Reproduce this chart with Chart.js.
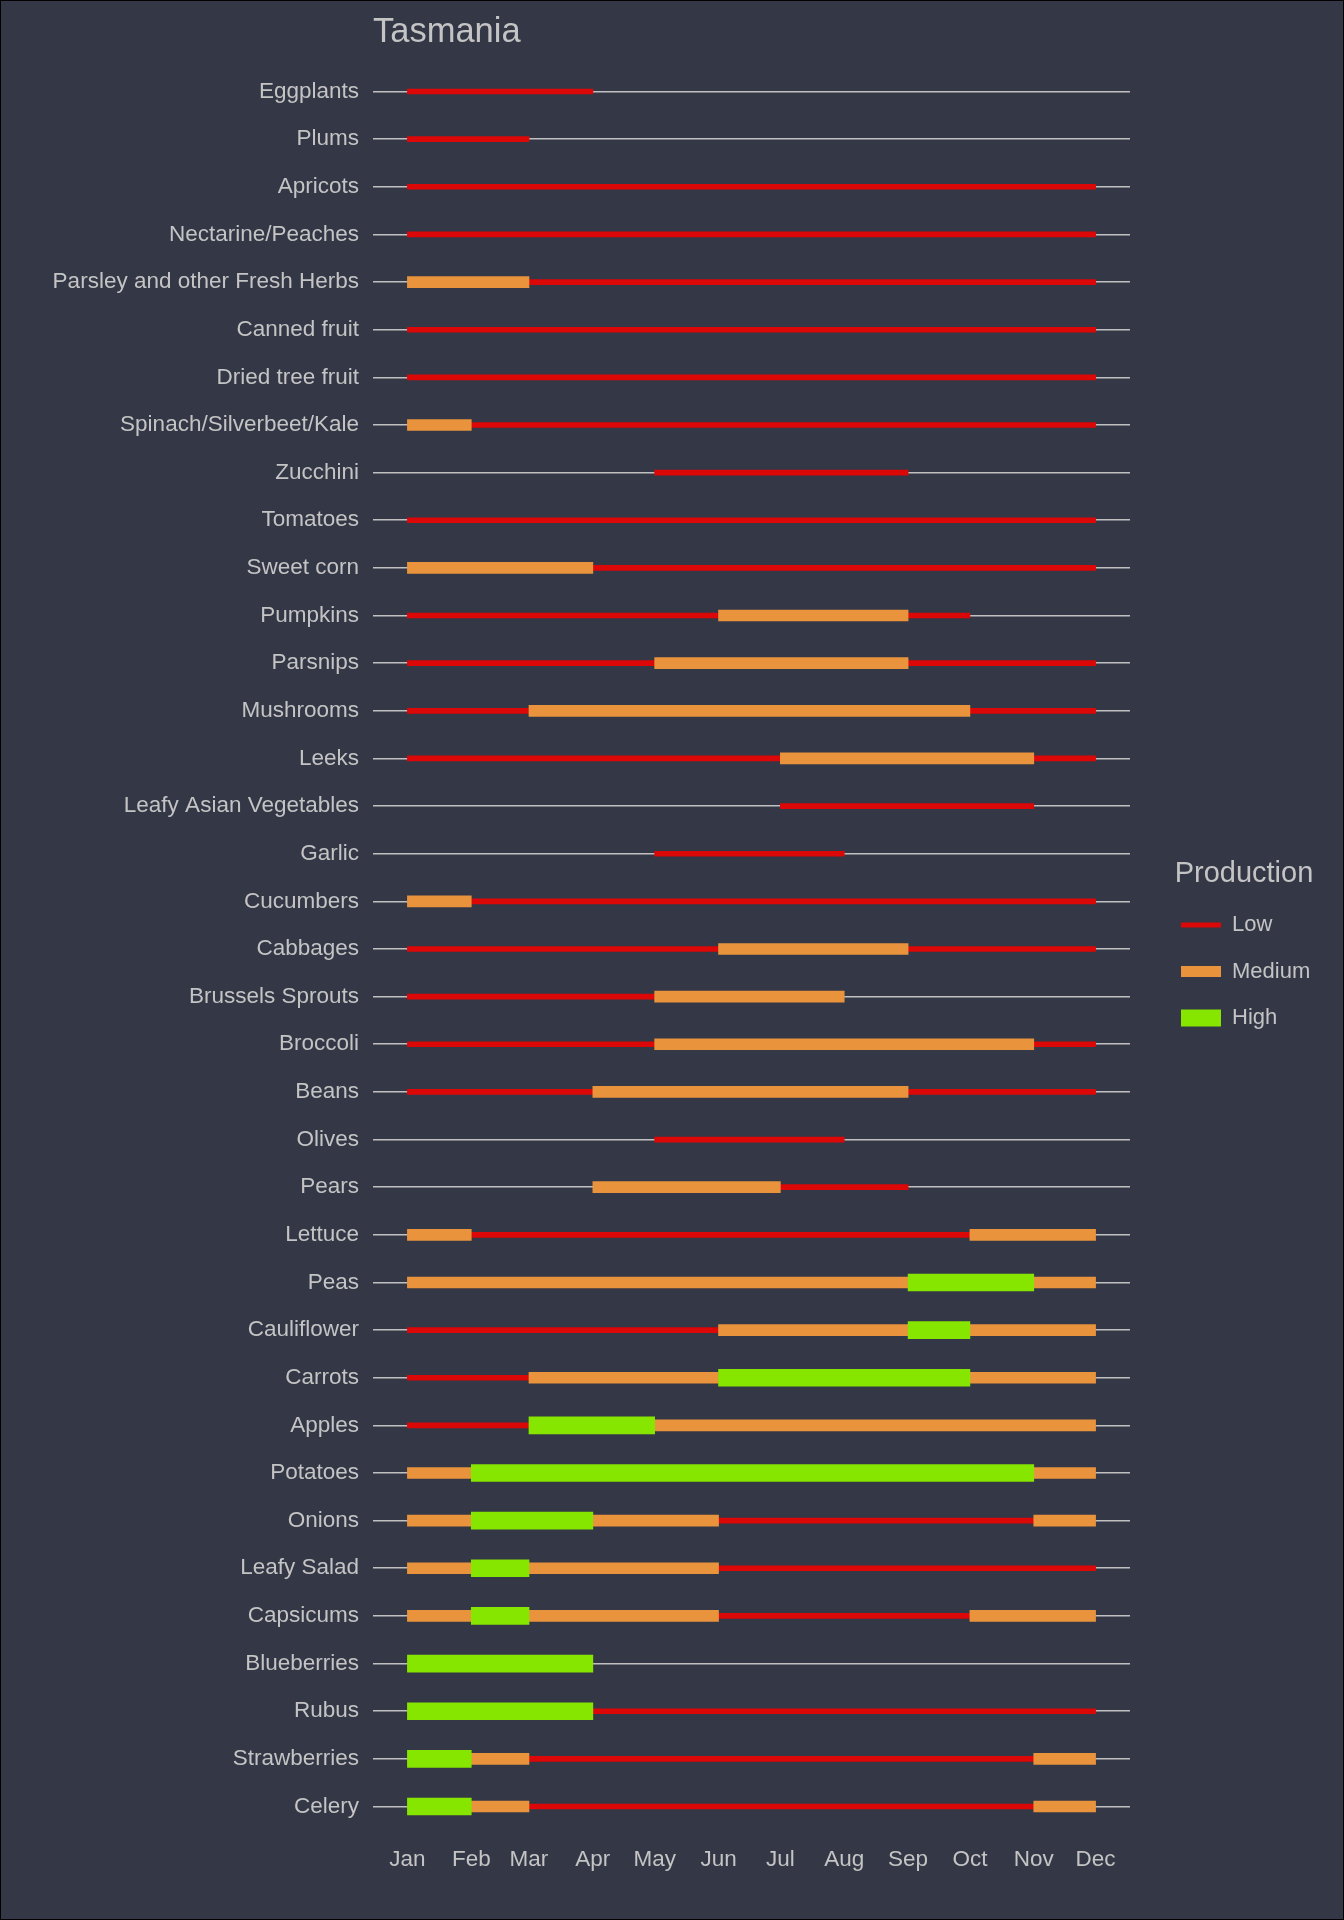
<!DOCTYPE html>
<html>
<head>
<meta charset="utf-8">
<title>Tasmania</title>
<script src="https://cdn.jsdelivr.net/npm/chart.js@4.4.1/dist/chart.umd.min.js"></script>
<style>
  html, body { margin: 0; padding: 0; background: #343746; }
  canvas { display: block; }
</style>
</head>
<body>
<canvas id="season_chart" width="1344" height="1920" style="width:1344px;height:1920px"></canvas>
<script>
var crops = [
  'Eggplants', 'Plums', 'Apricots', 'Nectarine/Peaches', 'Parsley and other Fresh Herbs',
  'Canned fruit', 'Dried tree fruit', 'Spinach/Silverbeet/Kale', 'Zucchini', 'Tomatoes',
  'Sweet corn', 'Pumpkins', 'Parsnips', 'Mushrooms', 'Leeks', 'Leafy Asian Vegetables',
  'Garlic', 'Cucumbers', 'Cabbages', 'Brussels Sprouts', 'Broccoli', 'Beans', 'Olives',
  'Pears', 'Lettuce', 'Peas', 'Cauliflower', 'Carrots', 'Apples', 'Potatoes', 'Onions',
  'Leafy Salad', 'Capsicums', 'Blueberries', 'Rubus', 'Strawberries', 'Celery'
];

var months = ['Jan', 'Feb', 'Mar', 'Apr', 'May', 'Jun', 'Jul', 'Aug', 'Sep', 'Oct', 'Nov', 'Dec'];
// day of year for the first of each month
var monthDays = [0, 31, 59, 90, 120, 151, 181, 212, 243, 273, 304, 334];

// [crop, from, to]
var lowSeasons = [
  ['Eggplants', 'Jan', 'Apr'], ['Plums', 'Jan', 'Mar'], ['Apricots', 'Jan', 'Dec'],
  ['Nectarine/Peaches', 'Jan', 'Dec'], ['Parsley and other Fresh Herbs', 'Mar', 'Dec'],
  ['Canned fruit', 'Jan', 'Dec'], ['Dried tree fruit', 'Jan', 'Dec'],
  ['Spinach/Silverbeet/Kale', 'Feb', 'Dec'], ['Zucchini', 'May', 'Sep'], ['Tomatoes', 'Jan', 'Dec'],
  ['Sweet corn', 'Apr', 'Dec'], ['Pumpkins', 'Jan', 'Jun'], ['Pumpkins', 'Sep', 'Oct'],
  ['Parsnips', 'Jan', 'May'], ['Parsnips', 'Sep', 'Dec'], ['Mushrooms', 'Jan', 'Mar'],
  ['Mushrooms', 'Oct', 'Dec'], ['Leeks', 'Jan', 'Jul'], ['Leeks', 'Nov', 'Dec'],
  ['Leafy Asian Vegetables', 'Jul', 'Nov'], ['Garlic', 'May', 'Aug'], ['Cucumbers', 'Feb', 'Dec'],
  ['Cabbages', 'Jan', 'Jun'], ['Cabbages', 'Sep', 'Dec'], ['Brussels Sprouts', 'Jan', 'May'],
  ['Broccoli', 'Jan', 'May'], ['Broccoli', 'Nov', 'Dec'], ['Beans', 'Jan', 'Apr'],
  ['Beans', 'Sep', 'Dec'], ['Olives', 'May', 'Aug'], ['Pears', 'Jul', 'Sep'],
  ['Lettuce', 'Feb', 'Oct'], ['Cauliflower', 'Jan', 'Jun'], ['Carrots', 'Jan', 'Mar'],
  ['Apples', 'Jan', 'Mar'], ['Onions', 'Jun', 'Nov'], ['Leafy Salad', 'Jun', 'Dec'],
  ['Capsicums', 'Jun', 'Oct'], ['Rubus', 'Apr', 'Dec'], ['Strawberries', 'Mar', 'Nov'],
  ['Celery', 'Mar', 'Nov']
];

var mediumSeasons = [
  ['Parsley and other Fresh Herbs', 'Jan', 'Mar'], ['Spinach/Silverbeet/Kale', 'Jan', 'Feb'],
  ['Sweet corn', 'Jan', 'Apr'], ['Pumpkins', 'Jun', 'Sep'], ['Parsnips', 'May', 'Sep'],
  ['Mushrooms', 'Mar', 'Oct'], ['Leeks', 'Jul', 'Nov'], ['Cucumbers', 'Jan', 'Feb'],
  ['Cabbages', 'Jun', 'Sep'], ['Brussels Sprouts', 'May', 'Aug'], ['Broccoli', 'May', 'Nov'],
  ['Beans', 'Apr', 'Sep'], ['Pears', 'Apr', 'Jul'], ['Lettuce', 'Jan', 'Feb'],
  ['Lettuce', 'Oct', 'Dec'], ['Peas', 'Jan', 'Sep'], ['Peas', 'Nov', 'Dec'],
  ['Cauliflower', 'Jun', 'Sep'], ['Cauliflower', 'Oct', 'Dec'], ['Carrots', 'Mar', 'Jun'],
  ['Carrots', 'Oct', 'Dec'], ['Apples', 'May', 'Dec'], ['Potatoes', 'Jan', 'Feb'],
  ['Potatoes', 'Nov', 'Dec'], ['Onions', 'Jan', 'Feb'], ['Onions', 'Apr', 'Jun'],
  ['Onions', 'Nov', 'Dec'], ['Leafy Salad', 'Jan', 'Feb'], ['Leafy Salad', 'Mar', 'Jun'],
  ['Capsicums', 'Jan', 'Feb'], ['Capsicums', 'Mar', 'Jun'], ['Capsicums', 'Oct', 'Dec'],
  ['Strawberries', 'Feb', 'Mar'], ['Strawberries', 'Nov', 'Dec'], ['Celery', 'Feb', 'Mar'],
  ['Celery', 'Nov', 'Dec']
];

var highSeasons = [
  ['Peas', 'Sep', 'Nov'], ['Cauliflower', 'Sep', 'Oct'], ['Carrots', 'Jun', 'Oct'],
  ['Apples', 'Mar', 'May'], ['Potatoes', 'Feb', 'Nov'], ['Onions', 'Feb', 'Apr'],
  ['Leafy Salad', 'Feb', 'Mar'], ['Capsicums', 'Feb', 'Mar'], ['Blueberries', 'Jan', 'Apr'],
  ['Rubus', 'Jan', 'Apr'], ['Strawberries', 'Jan', 'Feb'], ['Celery', 'Jan', 'Feb']
];

var levels = [
  { name: 'Low', seasons: lowSeasons, color: '#dc0707', thickness: 5 },
  { name: 'Medium', seasons: mediumSeasons, color: '#e9943d', thickness: 11 },
  { name: 'High', seasons: highSeasons, color: '#86e600', thickness: 17 }
];

var textColor = '#c4c4c4';
var fontFamily = "'Liberation Sans', Arial, sans-serif";

function dayOf(month) {
  return monthDays[months.indexOf(month)];
}

// one bar can sit in each crop slot per dataset, so a crop with two
// spells of the same level gets its second spell in a second layer
function buildDatasets() {
  var sets = [];
  levels.forEach(function(level, li) {
    var layers = [];
    level.seasons.forEach(function(s) {
      var idx = crops.indexOf(s[0]);
      var k = 0;
      while (layers[k] && layers[k][idx]) k++;
      if (!layers[k]) layers[k] = crops.map(function() { return null; });
      layers[k][idx] = [dayOf(s[1]), dayOf(s[2])];
    });
    layers.forEach(function(data, k) {
      sets.push({
        label: level.name + (k ? ' ' + (k + 1) : ''),
        data: data,
        backgroundColor: level.color,
        borderWidth: 0,
        barThickness: level.thickness,
        grouped: false,
        order: 10 - li
      });
    });
  });
  return sets;
}

var backdrop = {
  id: 'backdrop',
  beforeDraw: function(chart) {
    var ctx = chart.ctx;
    ctx.save();
    ctx.fillStyle = '#343746';
    ctx.fillRect(0, 0, chart.width, chart.height);
    ctx.strokeStyle = '#000000';
    ctx.lineWidth = 2;
    ctx.strokeRect(0, 0, chart.width, chart.height);
    ctx.restore();
  }
};

// push the legend a little away from the panel, like ggplot does
var legendGap = {
  id: 'legendGap',
  afterLayout: function(chart) {
    var lg = chart.legend;
    lg.left = chart.chartArea.right + 26.5;
    lg.width = 175;
    lg.right = lg.left + lg.width;
  }
};

var season_config = {
  type: 'bar',
  data: {
    labels: crops,
    datasets: buildDatasets()
  },
  plugins: [backdrop, legendGap],
  options: {
    indexAxis: 'y',
    responsive: false,
    devicePixelRatio: 1,
    animation: false,
    layout: {
      padding: { top: 0, left: 0, right: 54, bottom: 7.5 }
    },
    scales: {
      x: {
        type: 'linear',
        min: -16.7,
        max: 350.7,
        grid: { display: false },
        border: { display: false },
        afterBuildTicks: function(scale) {
          scale.ticks = monthDays.map(function(v) { return { value: v }; });
        },
        afterFit: function(scale) {
          scale.height = 82.2;
        },
        ticks: {
          autoSkip: false,
          maxRotation: 0,
          padding: 7.5,
          color: textColor,
          font: { size: 22.5, family: fontFamily },
          callback: function(value) {
            return months[monthDays.indexOf(value)];
          }
        }
      },
      y: {
        type: 'category',
        offset: true,
        grid: {
          offset: false,
          drawTicks: false,
          color: '#c0c0c0',
          lineWidth: 1.6
        },
        border: { display: false },
        afterFit: function(scale) {
          scale.width = 373;
        },
        ticks: {
          autoSkip: false,
          padding: 14,
          color: textColor,
          font: { size: 22.5, family: fontFamily }
        }
      }
    },
    plugins: {
      tooltip: { enabled: false },
      title: {
        display: true,
        text: 'Tasmania',
        align: 'start',
        fullSize: false,
        color: textColor,
        font: { size: 34.5, weight: 'normal', family: fontFamily, lineHeight: 1.2 },
        padding: { top: 12, bottom: 14.3 }
      },
      legend: {
        position: 'right',
        maxWidth: 160,
        onClick: null,
        title: {
          display: true,
          text: 'Production',
          position: 'center',
          color: textColor,
          font: { size: 29, family: fontFamily, lineHeight: 1 },
          padding: { top: 0, bottom: 1.5 }
        },
        labels: {
          usePointStyle: true,
          pointStyleWidth: 40,
          padding: 24.5,
          color: textColor,
          font: { size: 22, family: fontFamily },
          generateLabels: function() {
            return levels.map(function(level, i) {
              return {
                text: level.name,
                fillStyle: level.color,
                strokeStyle: level.color,
                lineWidth: level.thickness,
                lineCap: 'butt',
                pointStyle: 'line',
                hidden: false,
                datasetIndex: i
              };
            });
          }
        }
      }
    }
  }
};

window.onload = function() {
  var season_ctx = document.getElementById('season_chart').getContext('2d');
  var season_chart = new Chart(season_ctx, season_config);
};
</script>
</body>
</html>
